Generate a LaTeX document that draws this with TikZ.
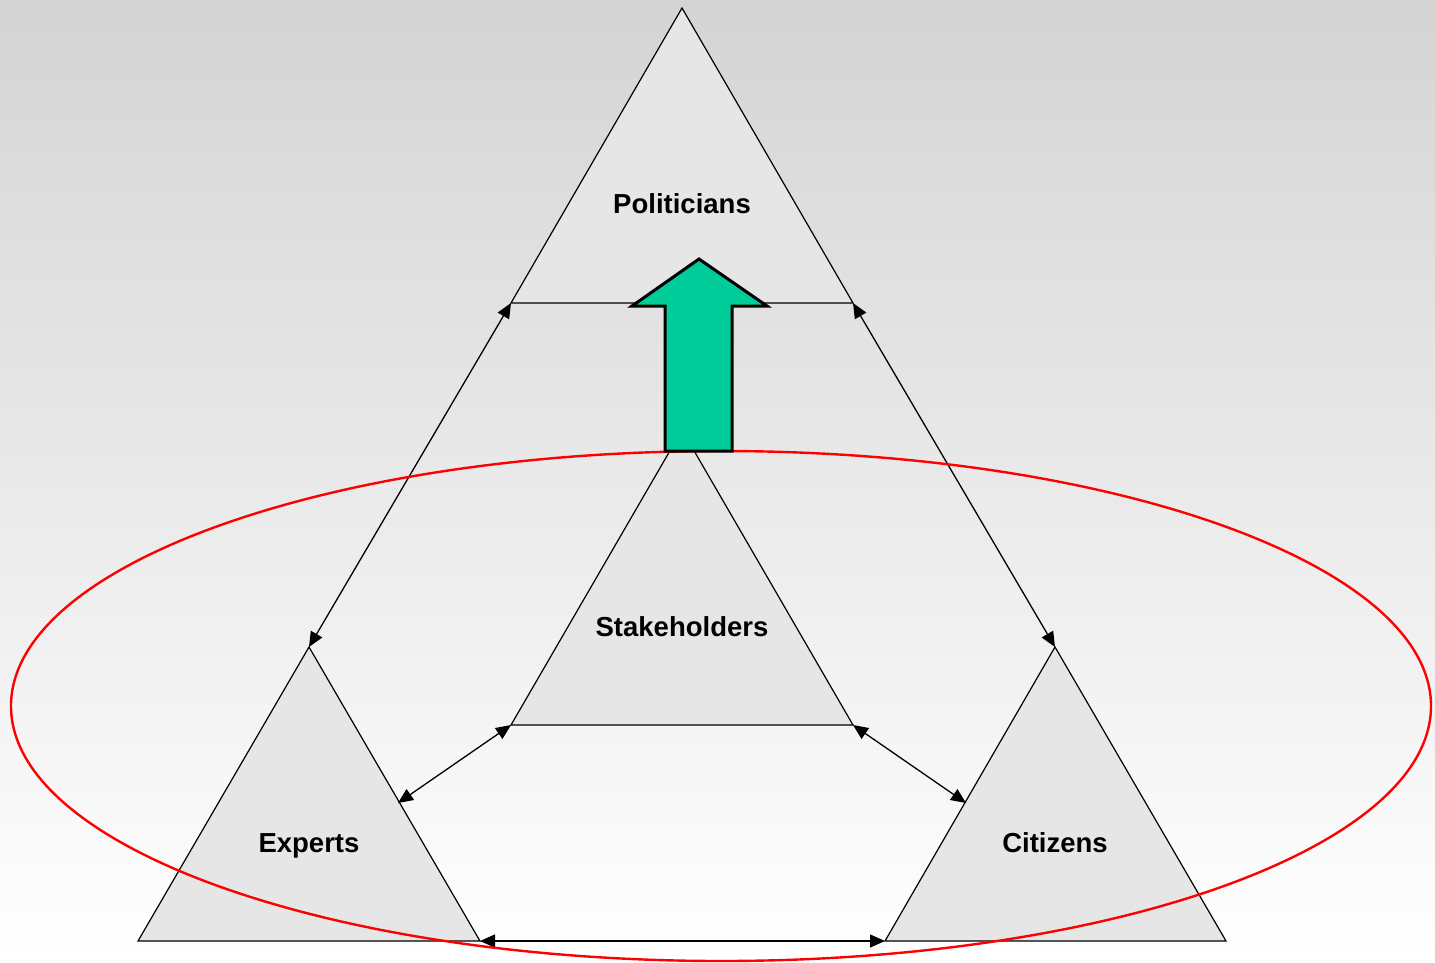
\documentclass[tikz,border=0pt]{standalone}
\usepackage{fontspec}
\setmainfont{Liberation Sans}
\usetikzlibrary{arrows.meta}
\definecolor{bgtop}{RGB}{212,212,212}
\definecolor{trifill}{RGB}{230,230,230}
\definecolor{arrowgreen}{RGB}{0,204,153}
\definecolor{ringred}{RGB}{255,0,0}
\tikzset{
  tri/.style={draw=black, fill=trifill, line width=1.2pt, line join=miter},
  link/.style={draw=black, line width=1.3pt, arrows={Triangle[length=15pt,width=13pt]-Triangle[length=15pt,width=13pt]}},
  lbl/.style={font=\fontsize{27.5}{32}\selectfont\bfseries, text=black, inner sep=0pt, anchor=base},
  ring/.style={draw=ringred, line width=2.4pt},
  bigarrow/.style={draw=black, fill=arrowgreen, line width=3pt, line join=miter}
}
\begin{document}
\begin{tikzpicture}[x=1pt,y=-1pt]
\useasboundingbox (0,0) rectangle (1435,962);
\shade[top color=bgtop, bottom color=white] (0,0) rectangle (1435,962);
% triangle corners
\coordinate (Pa) at (682,8);   \coordinate (Pl) at (511,303); \coordinate (Pr) at (853,303);
\coordinate (Sa) at (682,430); \coordinate (Sl) at (511,725); \coordinate (Sr) at (853,725);
\coordinate (Ea) at (309,647); \coordinate (El) at (138,941); \coordinate (Er) at (480,941);
\coordinate (Ca) at (1055,647);\coordinate (Cl) at (885,941); \coordinate (Cr) at (1226,941);
\coordinate (Eside) at (398,803);
\coordinate (Cside) at (966,803);
% triangles
\draw[tri] (Pa) -- (Pl) -- (Pr) -- cycle;
\draw[tri] (Sa) -- (Sl) -- (Sr) -- cycle;
\draw[tri] (Ea) -- (El) -- (Er) -- cycle;
\draw[tri] (Ca) -- (Cl) -- (Cr) -- cycle;
% connectors
\draw[link] (Pl) -- (Ea);
\draw[link] (Pr) -- (Ca);
\draw[link] (Sl) -- (Eside);
\draw[link] (Sr) -- (Cside);
\draw[link] (Er) -- (Cl);
% ellipse
\draw[ring] (721,706) ellipse [x radius=710, y radius=255];
% green arrow
\draw[bigarrow] (665,451) -- (732,451) -- (732,306) -- (767,306) -- (699,259) -- (632,306) -- (665,306) -- cycle;
% labels
\node[lbl] (pol) at (682,213) {Politicians};
\node[lbl] (stk) at (682,636) {Stakeholders};
\node[lbl] (exp) at (309,852) {Experts};
\node[lbl] (cit) at (1055,852) {Citizens};
\end{tikzpicture}
\end{document}
